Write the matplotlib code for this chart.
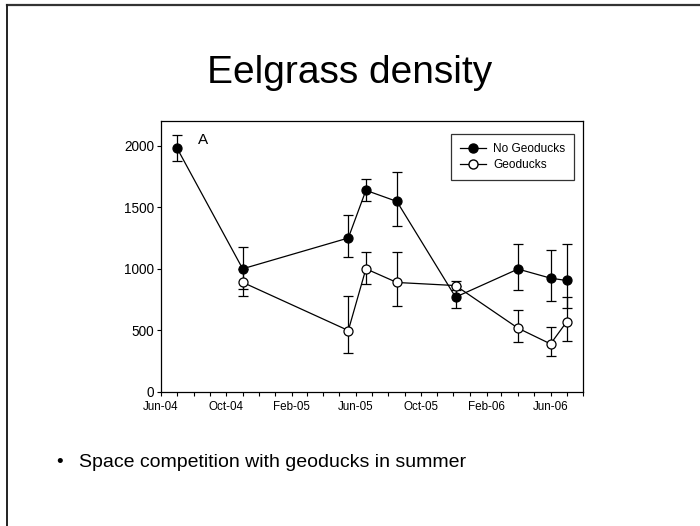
import datetime as dt

import matplotlib
matplotlib.use("Agg")
import matplotlib.dates as mdates
from matplotlib import pyplot as plt
from matplotlib.lines import Line2D

plt.rcParams["font.family"] = ["Liberation Sans", "DejaVu Sans"]

# sampling dates
dates_no = ["2004-07-01", "2004-11-01", "2005-05-18", "2005-06-20", "2005-08-17",
            "2005-12-05", "2006-04-01", "2006-06-01", "2006-07-01"]
dates_geo = ["2004-11-01", "2005-05-18", "2005-06-20", "2005-08-17",
             "2005-12-05", "2006-04-01", "2006-06-01", "2006-07-01"]

# shoots per m2
no_geoducks = [1980, 1000, 1250, 1637, 1547, 770, 998, 924, 905]
no_err_low = [105, 160, 155, 85, 203, 90, 173, 184, 225]
no_err_high = [110, 173, 183, 92, 239, 90, 203, 230, 296]

geoducks = [890, 499, 1000, 889, 864, 518, 390, 568]
geo_err_low = [108, 179, 122, 190, 40, 109, 102, 151]
geo_err_high = [110, 281, 136, 247, 38, 149, 141, 207]

y_ticks = [0, 500, 1000, 1500, 2000]

to_date = lambda s: dt.datetime.strptime(s, "%Y-%m-%d")

fig = plt.figure(figsize=(7, 5.26), dpi=100)

# slide frame (top and left edges)
fig.add_artist(Line2D([0.010, 1.0], [0.990, 0.990], color="#333333", lw=1.6))
fig.add_artist(Line2D([0.010, 0.010], [0.0, 0.990], color="#222222", lw=1.4))

fig.text(0.5, 0.842, "Eelgrass density", ha="center", va="baseline", fontsize=28)
fig.text(0.085, 0.112, "\u2022", ha="center", va="baseline", fontsize=13.5)
fig.text(0.113, 0.112, "Space competition with geoducks in summer", ha="left",
         va="baseline", fontsize=14)

ax = fig.add_axes([0.23, 0.2548, 0.603, 0.5152])

err_kw = dict(color="black", lw=0.9, capsize=3.4, capthick=0.9, elinewidth=0.9,
              markersize=6.5, markeredgewidth=0.9, markeredgecolor="black")

ax.errorbar([to_date(d) for d in dates_no], no_geoducks, yerr=[no_err_low, no_err_high],
            marker="o", markerfacecolor="black", zorder=3, **err_kw)
ax.errorbar([to_date(d) for d in dates_geo], geoducks, yerr=[geo_err_low, geo_err_high],
            marker="o", markerfacecolor="white", zorder=4, **err_kw)

ax.set_xlim(to_date("2004-06-01"), to_date("2006-08-01"))
ax.set_ylim(0, 2200)
ax.set_yticks(y_ticks)

ax.xaxis.set_major_locator(mdates.MonthLocator(bymonth=[2, 6, 10]))
ax.xaxis.set_minor_locator(mdates.MonthLocator())
ax.xaxis.set_major_formatter(mdates.DateFormatter("%b-%y"))

ax.tick_params(axis="both", which="major", direction="out", length=3.2, width=0.8, pad=2)
ax.tick_params(axis="x", which="major", labelsize=8.4, pad=3)
ax.tick_params(axis="y", which="major", labelsize=9.8, pad=1.5)
ax.tick_params(axis="x", which="minor", direction="out", length=3, width=0.8)
for sp in ax.spines.values():
    sp.set_linewidth(0.9)

ax.text(0.088, 0.93, "A", transform=ax.transAxes, fontsize=11, va="center")

handles = [
    Line2D([], [], color="black", lw=0.9, marker="o", markersize=6.5,
           markerfacecolor="black", markeredgecolor="black", label="No Geoducks"),
    Line2D([], [], color="black", lw=0.9, marker="o", markersize=6.5,
           markerfacecolor="white", markeredgecolor="black", label="Geoducks"),
]
leg = ax.legend(handles=handles, loc="upper right", bbox_to_anchor=(0.979, 0.952),
                fontsize=8.6, frameon=True, fancybox=False, handlelength=2.2,
                borderpad=0.75, labelspacing=0.35, handletextpad=0.6, borderaxespad=0)
leg.get_frame().set_edgecolor("black")
leg.get_frame().set_linewidth(0.9)

fig.savefig("out.png", dpi=100)
